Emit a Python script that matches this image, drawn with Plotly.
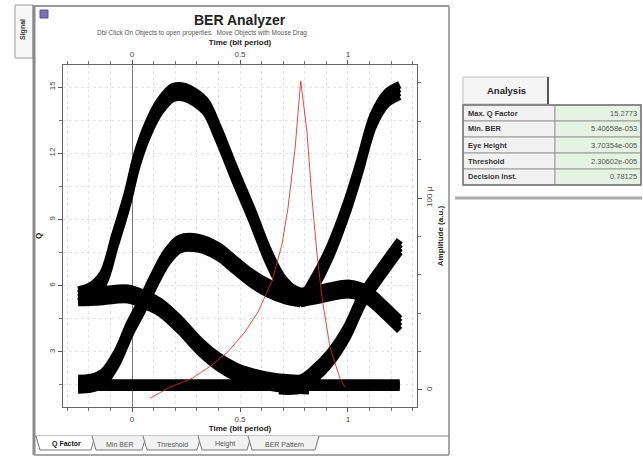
import plotly.graph_objects as go

W, H = 643, 457
FONT = "Liberation Sans, Arial, sans-serif"

# ---------------- Eye diagram (amplitude in micro a.u.) vs time (bit period) ----------------
top_t = [-0.25, -0.195, -0.134, -0.079, -0.023, 0.023, 0.074, 0.13, 0.19, 0.245, 0.338, 0.398,
         0.477, 0.556, 0.63, 0.694, 0.755, 0.80, 0.84, 0.917, 0.995, 1.056, 1.116, 1.18, 1.24]
top_amp = [49, 51, 58, 78, 99, 120, 136, 148, 155, 155, 148, 134,
           112, 91, 70, 56, 49.5, 48.5, 55, 72, 95, 117, 140, 152, 156]

hump_t = [-0.25, -0.19, -0.134, -0.07, -0.01, 0.046, 0.097, 0.16, 0.22, 0.305, 0.40, 0.477,
          0.556, 0.63, 0.71, 0.78]
hump_amp = [3, 3.5, 6.3, 16.7, 32, 44, 56, 69, 76, 76.5, 72, 65, 58, 53, 49.5, 48]

rise_t = [0.68, 0.78, 0.84, 0.917, 0.995, 1.07, 1.15, 1.24]
rise_amp = [2.5, 3, 7.8, 16.7, 30, 48, 61, 75]

arc_left_t = [-0.25, -0.15, -0.02, 0.06, 0.13, 0.22, 0.32, 0.40, 0.48, 0.56, 0.65, 0.73, 0.82]
arc_left_amp = [48.5, 49, 50, 47, 43, 34, 22, 14.6, 9.4, 6.3, 4.2, 3.2, 2.5]

arc_right_t = [0.78, 0.87, 1.01, 1.09, 1.16, 1.24]
arc_right_amp = [48, 50, 52.5, 49.5, 42.7, 34]

rail_t = [-0.25, 0.0, 0.25, 0.5, 0.75, 1.0, 1.24]
rail_amp = [2.5, 2.5, 2.5, 2.5, 2.5, 2.5, 2.5]

# ---------------- Q factor vs time (bit period) ----------------
q_t = [0.083, 0.176, 0.278, 0.37, 0.444, 0.523, 0.583, 0.648, 0.694, 0.722, 0.755, 0.78125,
       0.81, 0.833, 0.856, 0.88, 0.917, 0.963, 0.986]
q_val = [0.9, 1.4, 1.8, 2.4, 3.0, 3.9, 4.8, 6.2, 7.85, 9.5, 12.2, 15.2773,
         13.0, 10.0, 7.5, 5.45, 3.2, 1.8, 1.4]

# ---------------- ticks / labels ----------------
time_ticks = [0, 0.5, 1]
time_tick_labels = ["0", "0.5", "1"]
q_ticks = [3, 6, 9, 12, 15]
q_tick_labels = ["3", "6", "9", "12", "15"]
amp_ticks = [0, 100]
amp_tick_labels = ["0", "100 µ"]

analysis_labels = ["Max. Q Factor", "Min. BER", "Eye Height", "Threshold", "Decision Inst."]
analysis_values = ["15.2773", "5.40658e-053", "3.70354e-005", "2.30602e-005", "0.78125"]
tab_labels = ["Q Factor", "Min BER", "Threshold", "Height", "BER Pattern"]


def px(x):
    return x / W


def py(y):
    return 1 - y / H


fig = go.Figure()

families = [
    (top_t, top_amp, [-3, -1, 1, 3], 7.5),
    (hump_t, hump_amp, [-3, -1, 1, 3], 7.5),
    (rise_t, rise_amp, [-3, -1, 1, 3], 7.5),
    (arc_left_t, arc_left_amp, [-3, -1, 1, 3], 7.5),
    (arc_right_t, arc_right_amp, [-3, -1, 1, 3], 7.5),
    (rail_t, rail_amp, [-1, 0, 1], 8),
]
for ts, amps, spreads, lw in families:
    for off in spreads:
        fig.add_trace(go.Scatter(
            x=ts, y=[a + off for a in amps], mode="lines",
            line=dict(color="black", width=lw, shape="spline", smoothing=0.9),
            xaxis="x", yaxis="y", hoverinfo="skip", showlegend=False))

fig.add_trace(go.Scatter(
    x=q_t, y=q_val, mode="lines", line=dict(color="rgba(225,40,40,0.85)", width=1),
    xaxis="x2", yaxis="y2", showlegend=False, name="Q Factor"))

grid_col = "#e2e2e2"
tickfont = dict(family=FONT, size=8, color="#444")
titlefont = dict(family=FONT, size=8, color="#222")
xdom = [px(63), px(417)]
ydom = [py(407), py(65)]

fig.update_layout(
    width=W, height=H, margin=dict(l=0, r=0, t=0, b=0),
    paper_bgcolor="white", plot_bgcolor="white", showlegend=False,
    font=dict(family=FONT),
    xaxis=dict(domain=xdom, range=[-0.32, 1.32], anchor="y", side="bottom",
               tickvals=time_ticks, ticktext=time_tick_labels, tickfont=tickfont,
               ticks="outside", ticklen=4, tickcolor="#555",
               showgrid=True, gridcolor=grid_col, griddash="dot",
               minor=dict(dtick=0.1, tick0=0, ticks="outside", ticklen=3, tickcolor="#777",
                          showgrid=True, gridcolor=grid_col, griddash="dot"),
               zeroline=True, zerolinecolor="#777", zerolinewidth=1,
               showline=True, linecolor="#666", linewidth=1,
               title=dict(text="<b>Time (bit period)</b>", font=titlefont, standoff=2)),
    xaxis2=dict(overlaying="x", matches="x", anchor="y2", side="top", range=[-0.32, 1.32],
                tickvals=time_ticks, ticktext=time_tick_labels, tickfont=tickfont,
                ticks="outside", ticklen=4, tickcolor="#555",
                minor=dict(dtick=0.1, tick0=0, ticks="outside", ticklen=3, tickcolor="#777"),
                showgrid=False, zeroline=False,
                showline=True, linecolor="#666", linewidth=1,
                title=dict(text="<b>Time (bit period)</b>", font=titlefont, standoff=2)),
    yaxis=dict(domain=ydom, range=[-8.9, 169.3], anchor="x", side="right",
               tickvals=amp_ticks, ticktext=amp_tick_labels, tickangle=-90, tickfont=tickfont,
               ticks="outside", ticklen=4, tickcolor="#555",
               minor=dict(dtick=20, tick0=0, ticks="outside", ticklen=3, tickcolor="#777"),
               showgrid=False, zeroline=False,
               showline=True, linecolor="#666", linewidth=1,
               title=dict(text="<b>Amplitude (a.u.)</b>", font=titlefont, standoff=4)),
    yaxis2=dict(overlaying="y", anchor="x2", side="left", range=[0.5, 16],
                tickvals=q_ticks, ticktext=q_tick_labels, tickangle=-90, tickfont=tickfont,
                ticks="outside", ticklen=4, tickcolor="#555",
                showgrid=True, gridcolor=grid_col, griddash="dot",
                minor=dict(dtick=1.5, tick0=0, ticks="outside", ticklen=3, tickcolor="#777",
                           showgrid=True, gridcolor=grid_col, griddash="dot"),
                zeroline=False, showline=True, linecolor="#666", linewidth=1,
                title=dict(text="<b>Q</b>", font=titlefont, standoff=4)),
)

shapes = []
ann = []


def line(x0, y0, x1, y1, color="#999", width=1):
    shapes.append(dict(type="line", xref="paper", yref="paper", x0=px(x0), y0=py(y0),
                       x1=px(x1), y1=py(y1), line=dict(color=color, width=width)))


def rect(x0, y0, x1, y1, fill, color="#aaa", width=1):
    shapes.append(dict(type="rect", xref="paper", yref="paper", x0=px(x0), y0=py(y0),
                       x1=px(x1), y1=py(y1), fillcolor=fill, line=dict(color=color, width=width),
                       layer="below"))


def text(x, y, s, size=8, color="#333", xanchor="center", angle=0):
    ann.append(dict(xref="paper", yref="paper", x=px(x), y=py(y), text=s, showarrow=False,
                    xanchor=xanchor, yanchor="middle", textangle=angle,
                    font=dict(family=FONT, size=size, color=color)))


# window frame of the analyzer panel
line(34, 5, 34, 455, "#8a8a8a", 3)
line(34, 6, 449, 6, "#9a9a9a", 2)
line(449, 6, 449, 455, "#a8a8a8", 2)
line(34, 455, 449, 455, "#a8a8a8", 2)

# "Signal" side tab
rect(15, 5, 33, 58, "#f7f7f7", "#999", 1)
text(23, 30, "<b>Signal</b>", 7, "#333", angle=-90)

# small icon
rect(40, 10, 48, 18, "#7c70b8", "#5a5090", 1)

# titles
text(240, 20, "<b>BER Analyzer</b>", 14, "#222")
text(202, 33, "Dbl Click On Objects to open properties.  Move Objects with Mouse Drag", 6.5, "#555")

# bottom tabs
line(35, 436, 449, 436, "#888", 1)
edges = [36, 92, 143, 198, 248, 316]
for i, lab in enumerate(tab_labels):
    x0, x1 = edges[i], edges[i + 1]
    path = "M {} {} L {} {} L {} {} L {} {}".format(
        px(x0), py(436), px(x0 + 4), py(450), px(x1 - 1), py(450), px(x1 + 3), py(436))
    shapes.append(dict(type="path", xref="paper", yref="paper", path=path,
                       fillcolor="white" if i == 0 else "#f2f2f2",
                       line=dict(color="#777", width=1)))
    cx = (x0 + x1) / 2 + 2
    if i == 0:
        text(cx, 444, "<b>" + lab + "</b>", 7, "#111")
    else:
        text(cx, 444, lab, 7, "#555")

# Analysis tab + table
rect(463, 77, 548, 104, "#f5f5f5", "#c0c0c0", 1)
line(548, 77, 548, 104, "#555", 2)
text(506, 90, "<b>Analysis</b>", 9.5, "#222")
row_top, row_h = 105, 16
for i, (lab, val) in enumerate(zip(analysis_labels, analysis_values)):
    y0 = row_top + i * row_h
    rect(463, y0, 555, y0 + row_h, "#f1f1f1", "#9a9a9a", 1)
    rect(555, y0, 641, y0 + row_h, "#e4f3e2", "#9a9a9a", 1)
    text(466, y0 + row_h / 2, "<b>" + lab + "</b>", 7.5, "#333", xanchor="left")
    text(639, y0 + row_h / 2, val, 7.5, "#555", xanchor="right")
rect(463, row_top, 641, row_top + row_h * len(analysis_labels), "rgba(0,0,0,0)", "#777", 1.5)
line(455, 198, 642, 198, "#aaaaaa", 3)

fig.update_layout(shapes=shapes, annotations=ann)
fig.write_html("out.html", config={"displayModeBar": False},
               post_script="document.body.style.margin='0';document.body.style.overflow='hidden';")
